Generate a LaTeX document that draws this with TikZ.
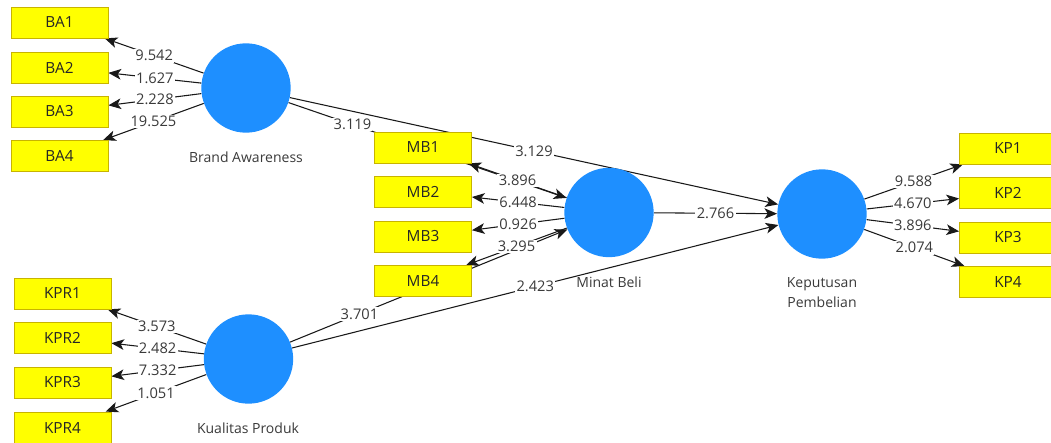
\documentclass[tikz,border=0pt]{standalone}
\usepackage{fontspec}
\setmainfont{Open Sans}
\usepackage{tikz}
\usetikzlibrary{arrows.meta,positioning,backgrounds}
\definecolor{PlsBlue}{HTML}{1E8FFF}
\definecolor{PlsYellow}{HTML}{FFFF00}
\definecolor{PlsOlive}{HTML}{C8B400}
\definecolor{PlsInk}{HTML}{3A3A3A}
\tikzset{
  construct/.style={circle, fill=PlsBlue, draw=none, minimum size=67pt, inner sep=0pt},
  indicator/.style={draw=PlsOlive, line width=0.6pt, fill=PlsYellow,
    minimum width=72.75pt, minimum height=23.25pt, inner sep=0pt,
    font=\fontsize{11.5pt}{13pt}\selectfont, text=black!85},
  cname/.style={align=center, text=PlsInk, font=\fontsize{10.5pt}{15pt}\selectfont},
  loading/.style={-{Stealth[length=9.5pt,width=8pt,inset=2.5pt]}, line width=0.8pt, draw=black!90},
  effect/.style={loading},
  tstat/.style={fill=white, inner sep=1pt, text=PlsInk, font=\fontsize{11pt}{12pt}\selectfont}
}
\begin{document}
\begin{tikzpicture}[x=0.75pt, y=-0.75pt]
  \useasboundingbox (0,0) rectangle (1051,443);
  % constructs
  \node[construct] (ba) at (246,88) {};
  \node[construct] (kpr) at (248.5,359) {};
  \node[construct] (mb) at (609,212.5) {};
  \node[construct] (kp) at (822,214) {};
  \node[cname] (balabel) at (246,157) {Brand Awareness};
  \node[cname] (kprlabel) at (248,428) {Kualitas Produk};
  \node[cname] (mblabel) at (609,282) {Minat Beli};
  \node[cname] (kplabel) at (822,293) {Keputusan\\Pembelian};
  % indicators
  \node[indicator] (ba1) at (59.5,22.5) {BA1};
  \node[indicator] (ba2) at (59.5,67.5) {BA2};
  \node[indicator] (ba3) at (59.5,111.5) {BA3};
  \node[indicator] (ba4) at (59.5,156) {BA4};
  \node[indicator] (kpr1) at (62.5,293.5) {KPR1};
  \node[indicator] (kpr2) at (62.5,337.5) {KPR2};
  \node[indicator] (kpr3) at (62.5,382.5) {KPR3};
  \node[indicator] (kpr4) at (62.5,427.5) {KPR4};
  \node[indicator] (mb1) at (423,147.5) {MB1};
  \node[indicator] (mb2) at (423,191.5) {MB2};
  \node[indicator] (mb3) at (423,236.5) {MB3};
  \node[indicator] (mb4) at (423,281) {MB4};
  \node[indicator] (kp1) at (1008,148.5) {KP1};
  \node[indicator] (kp2) at (1008,193) {KP2};
  \node[indicator] (kp3) at (1008,237.5) {KP3};
  \node[indicator] (kp4) at (1008,282) {KP4};
  % paths, kept under the boxes
  \begin{scope}[on background layer]
    \draw[effect] (ba) -- node[tstat, pos=0.23] {3.119} (mb);
    \draw[effect] (ba) -- node[tstat] {3.129} (kp);
    \draw[effect] (kpr) -- node[tstat, pos=0.25] {3.701} (mb);
    \draw[effect] (kpr) -- node[tstat] {2.423} (kp);
    \draw[effect] (mb) -- node[tstat] {2.766} (kp);
    \draw[loading] (ba) -- node[tstat] {9.542} (ba1);
    \draw[loading] (ba) -- node[tstat] {1.627} (ba2);
    \draw[loading] (ba) -- node[tstat] {2.228} (ba3);
    \draw[loading] (ba) -- node[tstat] {19.525} (ba4);
    \draw[loading] (kpr) -- node[tstat] {3.573} (kpr1);
    \draw[loading] (kpr) -- node[tstat] {2.482} (kpr2);
    \draw[loading] (kpr) -- node[tstat] {7.332} (kpr3);
    \draw[loading] (kpr) -- node[tstat] {1.051} (kpr4);
    \draw[loading] (mb) -- node[tstat] {3.896} (mb1);
    \draw[loading] (mb) -- node[tstat] {6.448} (mb2);
    \draw[loading] (mb) -- node[tstat] {0.926} (mb3);
    \draw[loading] (mb) -- node[tstat] {3.295} (mb4);
    \draw[loading] (kp) -- node[tstat] {9.588} (kp1);
    \draw[loading] (kp) -- node[tstat] {4.670} (kp2);
    \draw[loading] (kp) -- node[tstat] {3.896} (kp3);
    \draw[loading] (kp) -- node[tstat] {2.074} (kp4);
  \end{scope}
\end{tikzpicture}
\end{document}
